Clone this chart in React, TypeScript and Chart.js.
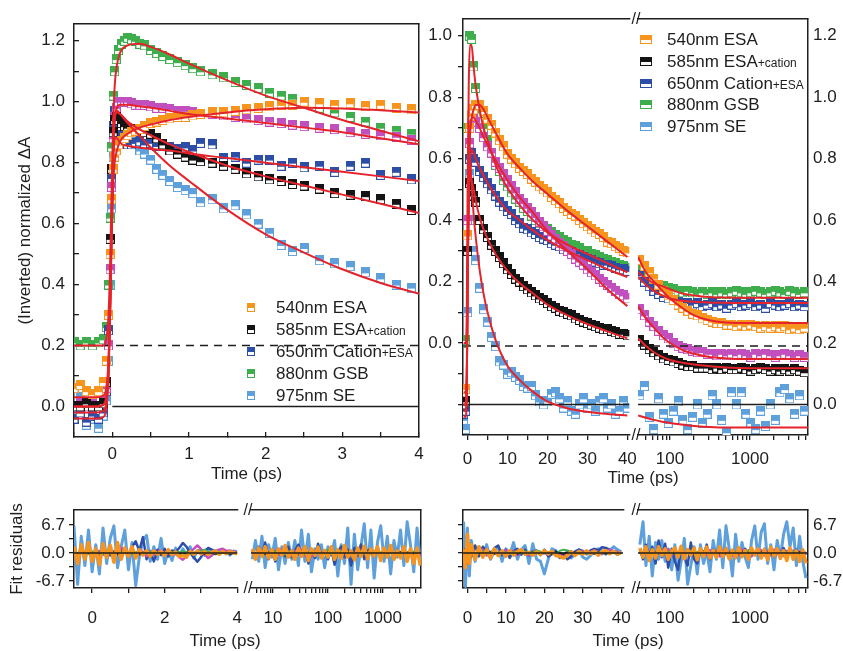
import React, { useEffect, useRef } from 'react';
import { Chart, registerables } from 'chart.js';
Chart.register(...registerables);

const FONT_FAMILY = '"Liberation Sans", Arial, Helvetica, sans-serif';
const INK = '#1e1e1e';
const RED = '#E5232B';
const COLORS: Record<string, string> = {
  orange: '#F7941E', black: '#141414', blue: '#2D4EA6', green: '#3EAD4B', light: '#5EA0DB', magenta: '#C14FBE',
};

// ---------------- axis limits & ticks ----------------
const TL_X_MIN = -0.5, TL_X_MAX = 4;
const TL_Y_MIN = -0.1005, TL_Y_MAX = 1.2545;
const TR_X_MIN = -1.15, TR_X_MAX = 40.5;
const TRL_X_MIN = 39.81, TRL_X_MAX = 5309;
const TR_Y_MIN = -0.0993, TR_Y_MAX = 1.2545;
const RES_MIN = -8.37, RES_MAX = 10.29;
const RL_X_MIN = -0.5, RL_X_MAX = 4;
const RLL_X_MIN = 3.98, RLL_X_MAX = 4920;
const TL_DASH = 0.2, TL_SOLID = 0, TL_SOLID_START = 0;
const TR_DASH = 0.19, TR_SOLID = 0;
const RES_ZERO = 0;

const TL_X_TICKS = [-0.5, 0, 0.5, 1, 1.5, 2, 2.5, 3, 3.5, 4];
const TL_Y_TICKS = [0, 0.1, 0.2, 0.3, 0.4, 0.5, 0.6, 0.7, 0.8, 0.9, 1.0, 1.1, 1.2];
const TR_X_TICKS = [0, 5, 10, 15, 20, 25, 30, 35, 40];
const TR_LOG_TICKS = [50, 60, 70, 80, 90, 100, 200, 300, 400, 500, 600, 700, 800, 900, 1000, 2000, 3000, 4000, 5000];
const TR_Y_TICKS = [0, 0.1, 0.2, 0.3, 0.4, 0.5, 0.6, 0.7, 0.8, 0.9, 1.0, 1.1, 1.2];
const RES_TICKS = [-6.7, -3.35, 0, 3.35, 6.7];
const RL_X_TICKS = [0, 1, 2, 3, 4];
const RL_LOG_TICKS = [5, 6, 7, 8, 9, 10, 20, 30, 40, 50, 60, 70, 80, 90, 100, 200, 300, 400, 500, 600, 700, 800, 900, 1000, 2000, 3000, 4000];
const DECADE_LABELS = [10, 100, 1000];

// ---------------- top-left panel data (time in ps) ----------------
const TL_T = [-0.5, -0.42, -0.34, -0.26, -0.18, -0.12, -0.08, -0.05, -0.03, -0.01, 0.01, 0.03, 0.05, 0.08, 0.12, 0.16, 0.2, 0.25, 0.3, 0.36, 0.42, 0.5, 0.58, 0.66, 0.75, 0.85, 0.95, 1.05, 1.15, 1.3, 1.45, 1.6, 1.75, 1.9, 2.05, 2.2, 2.35, 2.5, 2.7, 2.9, 3.1, 3.3, 3.5, 3.7, 3.9];
const TL_GREEN = [0.21, 0.2, 0.21, 0.2, 0.21, 0.22, 0.26, 0.4, 0.62, 0.85, 1.02, 1.1, 1.14, 1.17, 1.19, 1.2, 1.21, 1.205, 1.2, 1.19, 1.185, 1.17, 1.16, 1.15, 1.14, 1.13, 1.12, 1.11, 1.1, 1.09, 1.08, 1.065, 1.055, 1.045, 1.03, 1.02, 1.01, 1.0, 0.98, 0.965, 0.95, 0.935, 0.915, 0.905, 0.895];
const TL_MAGENTA = [0.0, 0.01, 0.0, 0.01, 0.0, 0.02, 0.06, 0.2, 0.45, 0.72, 0.88, 0.95, 0.98, 1.0, 1.0, 1.0, 1.0, 0.995, 0.99, 0.99, 0.99, 0.985, 0.98, 0.98, 0.975, 0.97, 0.97, 0.965, 0.96, 0.96, 0.955, 0.95, 0.945, 0.94, 0.935, 0.93, 0.925, 0.92, 0.915, 0.91, 0.9, 0.895, 0.89, 0.885, 0.875];
const TL_ORANGE = [0.06, 0.07, 0.05, 0.04, 0.05, 0.08, 0.15, 0.3, 0.5, 0.68, 0.78, 0.82, 0.84, 0.86, 0.87, 0.88, 0.89, 0.9, 0.905, 0.91, 0.92, 0.93, 0.935, 0.94, 0.945, 0.95, 0.95, 0.955, 0.96, 0.965, 0.965, 0.97, 0.975, 0.98, 0.985, 0.99, 0.99, 1.0, 0.995, 0.99, 0.995, 0.985, 0.99, 0.98, 0.975];
const TL_BLUE = [-0.04, -0.02, -0.05, -0.03, -0.04, -0.02, 0.05, 0.25, 0.5, 0.75, 0.92, 0.97, 0.95, 0.92, 0.89, 0.87, 0.86, 0.86, 0.865, 0.87, 0.86, 0.865, 0.855, 0.86, 0.85, 0.845, 0.85, 0.84, 0.865, 0.86, 0.815, 0.82, 0.8, 0.81, 0.81, 0.79, 0.8, 0.785, 0.79, 0.77, 0.79, 0.8, 0.76, 0.77, 0.745];
const TL_BLACK = [0.0, 0.0, 0.01, 0.0, 0.0, 0.01, 0.08, 0.3, 0.55, 0.78, 0.9, 0.94, 0.95, 0.94, 0.93, 0.92, 0.915, 0.91, 0.905, 0.905, 0.9, 0.895, 0.88, 0.86, 0.84, 0.83, 0.82, 0.81, 0.805, 0.8, 0.79, 0.78, 0.765, 0.755, 0.745, 0.74, 0.73, 0.725, 0.715, 0.7, 0.695, 0.69, 0.68, 0.665, 0.645];
const TL_LIGHT = [-0.02, 0.03, -0.06, -0.04, -0.07, -0.03, 0.02, 0.15, 0.4, 0.65, 0.82, 0.9, 0.92, 0.9, 0.88, 0.9, 0.87, 0.88, 0.86, 0.84, 0.83, 0.81, 0.78, 0.76, 0.74, 0.72, 0.71, 0.7, 0.67, 0.68, 0.65, 0.66, 0.63, 0.6, 0.57, 0.53, 0.51, 0.52, 0.48, 0.47, 0.46, 0.44, 0.42, 0.4, 0.39];

const TL_FIT_T = [-0.5, -0.2, -0.12, -0.08, -0.05, -0.03, -0.01, 0.01, 0.03, 0.06, 0.1, 0.2, 0.35, 0.5, 0.75, 1, 1.5, 2, 2.5, 3, 3.5, 4];
const TL_FIT_GREEN = [0.2, 0.2, 0.2, 0.22, 0.3, 0.45, 0.7, 0.92, 1.05, 1.12, 1.16, 1.185, 1.19, 1.18, 1.155, 1.125, 1.07, 1.02, 0.98, 0.94, 0.905, 0.87];
const TL_FIT_MAGENTA = [0, 0, 0.005, 0.03, 0.12, 0.3, 0.58, 0.82, 0.94, 0.98, 0.99, 0.99, 0.985, 0.98, 0.97, 0.96, 0.945, 0.93, 0.915, 0.9, 0.88, 0.86];
const TL_FIT_ORANGE = [0.03, 0.03, 0.035, 0.06, 0.15, 0.32, 0.55, 0.72, 0.8, 0.84, 0.87, 0.895, 0.915, 0.925, 0.94, 0.95, 0.965, 0.975, 0.98, 0.978, 0.972, 0.965];
const TL_FIT_BLUE = [-0.02, -0.02, -0.015, 0.01, 0.1, 0.28, 0.55, 0.78, 0.88, 0.88, 0.865, 0.855, 0.85, 0.845, 0.84, 0.83, 0.815, 0.8, 0.785, 0.77, 0.755, 0.74];
const TL_FIT_BLACK = [0, 0, 0.005, 0.03, 0.13, 0.32, 0.6, 0.85, 0.94, 0.965, 0.96, 0.935, 0.91, 0.89, 0.86, 0.835, 0.79, 0.755, 0.725, 0.695, 0.665, 0.635];
const TL_FIT_LIGHT = [-0.04, -0.04, -0.035, -0.01, 0.1, 0.3, 0.6, 0.85, 0.95, 0.97, 0.96, 0.93, 0.89, 0.85, 0.79, 0.74, 0.645, 0.565, 0.505, 0.45, 0.405, 0.37];

// ---------------- top-right panel, linear part ----------------
const TR_T = [-1, -0.5, 0, 0.5, 1, 1.5, 2, 3, 4, 5, 6, 7, 8, 9, 10, 11, 12, 13, 14, 15, 16, 17, 18, 19, 20, 21, 22, 23, 24, 25, 26, 27, 28, 29, 30, 31, 32, 33, 34, 35, 36, 37, 38, 39, 40];
const TR_ORANGE = [0.04, 0.05, 0.55, 0.9, 0.94, 0.96, 0.975, 0.975, 0.955, 0.93, 0.91, 0.885, 0.86, 0.84, 0.815, 0.8, 0.785, 0.77, 0.76, 0.75, 0.735, 0.725, 0.71, 0.7, 0.69, 0.675, 0.665, 0.655, 0.64, 0.63, 0.62, 0.615, 0.6, 0.59, 0.58, 0.57, 0.56, 0.555, 0.545, 0.53, 0.525, 0.515, 0.51, 0.5, 0.495];
const TR_GREEN = [0.2, 0.21, 0.9, 1.2, 1.19, 1.1, 1.03, 0.95, 0.9, 0.86, 0.82, 0.78, 0.76, 0.73, 0.71, 0.69, 0.67, 0.66, 0.64, 0.63, 0.615, 0.6, 0.59, 0.58, 0.57, 0.56, 0.55, 0.545, 0.535, 0.53, 0.52, 0.515, 0.51, 0.5, 0.5, 0.49, 0.485, 0.48, 0.475, 0.47, 0.465, 0.46, 0.455, 0.45, 0.445];
const TR_MAGENTA = [0, 0.01, 0.6, 0.85, 0.92, 0.93, 0.92, 0.9, 0.87, 0.84, 0.82, 0.79, 0.77, 0.75, 0.73, 0.71, 0.69, 0.67, 0.655, 0.64, 0.625, 0.61, 0.595, 0.58, 0.565, 0.55, 0.54, 0.525, 0.515, 0.5, 0.49, 0.475, 0.465, 0.455, 0.44, 0.43, 0.42, 0.41, 0.4, 0.39, 0.38, 0.37, 0.36, 0.355, 0.345];
const TR_BLUE = [-0.03, -0.02, 0.5, 0.8, 0.82, 0.8, 0.79, 0.76, 0.74, 0.72, 0.7, 0.68, 0.66, 0.645, 0.63, 0.62, 0.6, 0.59, 0.575, 0.57, 0.56, 0.555, 0.545, 0.54, 0.535, 0.525, 0.52, 0.515, 0.505, 0.5, 0.495, 0.49, 0.485, 0.48, 0.475, 0.47, 0.465, 0.46, 0.455, 0.455, 0.45, 0.445, 0.44, 0.44, 0.435];
const TR_BLACK = [0, 0.01, 0.5, 0.72, 0.7, 0.68, 0.66, 0.6, 0.57, 0.545, 0.52, 0.5, 0.48, 0.46, 0.44, 0.425, 0.41, 0.4, 0.385, 0.375, 0.365, 0.355, 0.345, 0.34, 0.33, 0.32, 0.315, 0.305, 0.3, 0.295, 0.29, 0.28, 0.275, 0.27, 0.265, 0.26, 0.255, 0.25, 0.245, 0.245, 0.24, 0.235, 0.23, 0.23, 0.225];
const TR_LIGHT = [-0.05, -0.08, 0.3, 0.75, 0.6, 0.5, 0.47, 0.38, 0.31, 0.27, 0.22, 0.19, 0.14, 0.13, 0.1, 0.105, 0.09, 0.08, 0.06, 0.055, 0.06, 0.03, 0.01, 0.0, 0.01, 0.035, 0.04, 0.02, -0.01, 0.01, -0.02, -0.03, 0.0, 0.02, -0.01, 0.0, -0.02, 0.01, 0.02, -0.01, 0.0, -0.03, -0.02, 0.01, -0.01];

const TR_FIT_T = [-1, -0.5, -0.2, 0, 0.3, 0.6, 1, 1.5, 2, 3, 4, 5, 7, 10, 13, 16, 20, 25, 30, 35, 40];
const TR_FIT_ORANGE = [0.04, 0.04, 0.1, 0.45, 0.75, 0.88, 0.93, 0.96, 0.975, 0.975, 0.96, 0.935, 0.885, 0.815, 0.77, 0.73, 0.685, 0.63, 0.58, 0.53, 0.48];
const TR_FIT_GREEN = [0.2, 0.2, 0.3, 0.7, 1.05, 1.17, 1.17, 1.1, 1.04, 0.96, 0.9, 0.86, 0.78, 0.705, 0.65, 0.605, 0.56, 0.52, 0.49, 0.46, 0.43];
const TR_FIT_MAGENTA = [0, 0, 0.08, 0.4, 0.75, 0.88, 0.93, 0.935, 0.925, 0.9, 0.87, 0.845, 0.795, 0.73, 0.675, 0.63, 0.565, 0.5, 0.44, 0.375, 0.32];
const TR_FIT_BLUE = [-0.02, -0.02, 0.06, 0.4, 0.7, 0.8, 0.83, 0.82, 0.8, 0.77, 0.745, 0.72, 0.68, 0.63, 0.6, 0.57, 0.535, 0.5, 0.47, 0.44, 0.415];
const TR_FIT_BLACK = [0, 0, 0.06, 0.4, 0.68, 0.75, 0.73, 0.7, 0.665, 0.61, 0.57, 0.54, 0.49, 0.435, 0.395, 0.365, 0.325, 0.29, 0.262, 0.238, 0.215];
const TR_FIT_LIGHT = [-0.04, -0.04, 0.05, 0.4, 0.75, 0.8, 0.72, 0.62, 0.55, 0.44, 0.36, 0.3, 0.21, 0.125, 0.08, 0.045, 0.01, -0.012, -0.024, -0.031, -0.036];

// ---------------- top-right panel, log part ----------------
const TRL_T = [42, 48, 55, 63, 72, 83, 95, 110, 126, 145, 167, 192, 220, 253, 291, 335, 385, 443, 510, 586, 674, 775, 891, 1025, 1179, 1356, 1559, 1793, 2062, 2371, 2727, 3136, 3607, 4148, 4770];
const TRL_GREEN = [0.44, 0.42, 0.41, 0.4, 0.39, 0.385, 0.38, 0.375, 0.37, 0.365, 0.37, 0.365, 0.36, 0.365, 0.36, 0.365, 0.36, 0.365, 0.36, 0.365, 0.37, 0.365, 0.36, 0.365, 0.37, 0.365, 0.36, 0.365, 0.37, 0.365, 0.36, 0.37, 0.365, 0.36, 0.365];
const TRL_BLUE = [0.42, 0.4, 0.385, 0.37, 0.36, 0.35, 0.345, 0.34, 0.335, 0.33, 0.33, 0.325, 0.33, 0.32, 0.325, 0.33, 0.32, 0.325, 0.315, 0.325, 0.33, 0.32, 0.325, 0.33, 0.32, 0.325, 0.315, 0.33, 0.325, 0.32, 0.325, 0.33, 0.32, 0.325, 0.32];
const TRL_ORANGE = [0.47, 0.45, 0.43, 0.41, 0.39, 0.37, 0.355, 0.34, 0.325, 0.315, 0.305, 0.295, 0.29, 0.28, 0.275, 0.27, 0.265, 0.265, 0.26, 0.26, 0.255, 0.26, 0.255, 0.26, 0.255, 0.25, 0.255, 0.25, 0.255, 0.25, 0.255, 0.245, 0.25, 0.245, 0.25];
const TRL_MAGENTA = [0.31, 0.29, 0.27, 0.255, 0.24, 0.225, 0.215, 0.2, 0.19, 0.185, 0.18, 0.175, 0.17, 0.17, 0.165, 0.165, 0.16, 0.165, 0.16, 0.165, 0.16, 0.165, 0.16, 0.155, 0.165, 0.16, 0.165, 0.16, 0.155, 0.16, 0.165, 0.16, 0.155, 0.16, 0.155];
const TRL_BLACK = [0.21, 0.195, 0.18, 0.17, 0.16, 0.15, 0.145, 0.14, 0.135, 0.13, 0.125, 0.125, 0.12, 0.12, 0.12, 0.115, 0.12, 0.115, 0.12, 0.115, 0.115, 0.12, 0.115, 0.11, 0.115, 0.12, 0.115, 0.11, 0.115, 0.11, 0.115, 0.11, 0.115, 0.11, 0.105];
const TRL_LIGHT = [0.03, 0.06, -0.04, -0.08, 0.02, -0.03, -0.06, -0.02, 0.01, -0.05, -0.08, -0.04, 0.0, -0.06, -0.03, 0.03, 0.0, -0.05, -0.09, 0.04, 0.0, 0.04, -0.03, -0.06, -0.08, -0.02, -0.07, 0.0, -0.05, 0.04, 0.05, 0.02, -0.03, 0.03, -0.02];

const TRL_FIT_T = [40, 50, 63, 80, 100, 150, 200, 300, 500, 1000, 2000, 5300];
const TRL_FIT_ORANGE = [0.48, 0.43, 0.4, 0.37, 0.345, 0.31, 0.29, 0.275, 0.267, 0.265, 0.265, 0.265];
const TRL_FIT_GREEN = [0.43, 0.41, 0.395, 0.385, 0.375, 0.36, 0.355, 0.35, 0.348, 0.347, 0.347, 0.347];
const TRL_FIT_BLUE = [0.415, 0.39, 0.37, 0.355, 0.345, 0.337, 0.334, 0.332, 0.331, 0.33, 0.33, 0.33];
const TRL_FIT_MAGENTA = [0.32, 0.28, 0.25, 0.22, 0.2, 0.175, 0.165, 0.155, 0.15, 0.148, 0.148, 0.148];
const TRL_FIT_BLACK = [0.215, 0.19, 0.17, 0.155, 0.145, 0.135, 0.13, 0.125, 0.12, 0.118, 0.118, 0.118];
const TRL_FIT_LIGHT = [-0.036, -0.043, -0.05, -0.056, -0.06, -0.066, -0.07, -0.073, -0.075, -0.075, -0.075, -0.075];

// ---------------- residuals, left (linear + log) ----------------
const RL_T = [-0.5, -0.4, -0.3, -0.2, -0.1, 0, 0.1, 0.2, 0.3, 0.4, 0.5, 0.6, 0.7, 0.8, 0.9, 1.0, 1.1, 1.2, 1.3, 1.4, 1.5, 1.6, 1.7, 1.8, 1.9, 2.0, 2.1, 2.2, 2.3, 2.4, 2.5, 2.6, 2.7, 2.8, 2.9, 3.0, 3.1, 3.2, 3.3, 3.4, 3.5, 3.6, 3.7, 3.8, 3.9, 4.0];
const RL_LIGHT = [6.5, -7.5, 4.0, -3.0, 5.5, -4.5, 2.0, -5.0, 6.0, -2.5, 3.5, 6.5, -3.5, 1.5, 5.5, -4.0, 2.5, -7.8, -1.0, 3.0, 4.2, -2.0, 1.5, -1.5, 3.5, -2.5, 0.5, -1.8, 1.2, -0.8, 1.0, -0.5, 1.5, -1.2, 0.5, 0.8, -0.6, 1.0, -0.4, 0.6, -0.3, 0.7, 0.2, -0.5, 0.5, 0.3];
const RL_ORANGE = [1.5, -2.5, 2.0, -1.5, 2.5, -2.0, 1.0, -2.8, 2.2, -1.0, 1.8, -2.2, 2.5, -1.5, 1.2, -0.8, 1.5, -1.2, 0.8, -0.5, 0.6, -0.8, 0.5, -0.3, 0.4, -0.6, 0.8, -0.4, 0.3, -0.9, -0.5, -1.0, 0.4, -0.3, 0.5, -0.2, 0.3, -0.4, 0.2, 0.5, -0.3, 0.4, -0.2, 0.3, 0.1, -0.2];
const RL_BLUE = [0.5, -0.3, 0.8, -0.5, 0.3, -1.0, 0.6, -0.4, 0.2, 0.5, -0.6, 0.4, -0.3, 0.8, 0.3, -0.5, 1.5, 2.8, 0.5, 3.8, -1.5, 0.5, -2.0, 0.8, -0.5, 1.0, -0.8, 0.6, 0.2, 1.2, 2.4, 1.5, 0.0, -1.0, -2.1, -1.0, 0.5, 1.2, 0.8, 0.3, -0.2, 0.4, 0.2, -0.3, 0.2, 0.0];
const RL_MAGENTA = [0.3, -0.5, 0.6, -0.2, 0.4, -0.6, 0.2, 0.5, -0.4, 0.3, 0.6, -0.3, 0.5, 1.2, 0.8, -0.4, 0.3, -0.6, 0.9, 0.2, -0.8, 0.4, -0.5, 0.3, 0.6, -0.2, 0.1, -0.4, -0.2, -1.0, -1.6, -0.8, 0.2, 1.0, 1.8, 1.0, -0.3, -1.2, -0.6, 0.4, 0.8, 1.0, 0.5, 0.6, 0.3, 0.2];
const RL_GREEN = [0.2, -0.3, 0.1, 0.3, -0.2, 0.4, -0.1, 0.2, -0.3, 0.1, 0.3, -0.2, 0.2, -0.1, 0.3, 0.1, -0.3, 0.2, 0.4, -0.2, 0.1, 0.3, -0.1, 0.2, 0.0, -0.2, 0.3, 0.1, -0.1, 0.2, 0.4, 0.2, -0.2, 0.1, 0.3, 0.5, 0.8, 0.3, 0.1, -0.1, 0.2, 0.3, 0.0, 0.1, -0.1, 0.1];
const RL_BLACK = [0.1, -0.2, 0.2, 0.0, -0.1, 0.3, -0.2, 0.1, 0.2, -0.1, 0.0, 0.2, -0.2, 0.1, 0.3, -0.1, 0.2, 0.0, -0.3, 0.1, 0.2, -0.1, 0.1, 0.3, -0.2, 0.0, 0.1, -0.1, 0.2, 0.0, -0.2, 0.1, 0.2, -0.1, 0.0, 0.1, -0.2, 0.0, 0.1, -0.3, -0.1, 0.1, 0.0, -0.1, 0.1, 0.0];

const RLL_T = [4.2, 4.8, 5.5, 6.3, 7.2, 8.3, 9.5, 11, 12.6, 14.5, 16.6, 19, 22, 25, 29, 33, 38, 44, 50, 58, 66, 76, 87, 100, 115, 132, 151, 174, 200, 229, 263, 302, 347, 398, 457, 525, 603, 692, 794, 912, 1047, 1202, 1380, 1585, 1820, 2089, 2399, 2754, 3162, 3631, 4169, 4786];
const RLL_LIGHT = [-1.5, 3.0, -2.0, 4.0, -3.5, 2.0, -1.0, 3.5, -4.0, 1.5, -2.5, 2.5, -1.5, 3.0, -3.0, 5.5, -2.0, 4.5, -4.5, 1.0, -1.5, 2.0, -3.5, 1.5, -0.5, 3.0, -5.5, 2.0, -2.5, 6.0, -7.5, 4.5, -4.0, 1.5, 7.0, -3.5, 5.5, -6.0, 2.5, 6.5, -2.0, 4.0, -5.0, 3.0, -1.0, 5.5, -3.0, 7.5, 2.0, -4.5, 6.0, -2.5];
const RLL_ORANGE = [1.0, -1.5, 1.2, -0.8, 1.5, -1.2, 0.8, -1.5, 1.0, -0.5, 1.8, -1.0, 0.5, -1.5, 1.2, -0.8, 1.5, -1.8, 1.0, -0.6, 1.4, -1.2, 0.6, -1.0, 1.5, -1.5, 0.8, -1.2, 1.8, -1.0, 0.5, -1.6, 1.2, -0.8, 1.6, -1.4, 1.0, -0.7, 1.5, -1.8, 1.2, -1.0, 1.8, -1.5, 0.6, -1.2, 1.5, -2.0, 1.0, -2.5, 1.2, -3.0];
const RLL_BLUE = [0.5, -1.0, 1.5, -0.5, 2.5, -1.5, 0.8, -2.0, 1.0, 0.3, -0.8, 1.5, -1.0, 0.5, 2.0, -0.5, 1.0, -2.5, 0.6, -1.2, 2.2, -0.8, 0.4, -1.5, 1.0, -2.8, 0.5, 1.5, -1.0, 0.8, -3.0, 1.2, -0.6, 2.0, -1.5, 0.5, 1.0, -0.8, 1.6, -1.2, 0.4, -0.6, 1.2, -1.0, 0.8, -0.5, 1.0, -0.8, 0.6, -0.4, 0.8, -0.6];
const RLL_MAGENTA = [0.3, -0.6, 0.8, -0.4, 0.5, -0.8, 0.2, 0.6, -0.5, 0.9, -0.3, 0.4, -0.7, 0.5, -0.2, 0.8, -0.6, 0.3, -0.9, 0.5, 0.2, -0.4, 0.7, -0.6, 0.4, -0.8, 0.6, -0.3, 0.5, -1.0, 0.3, -0.5, 0.8, -0.4, 0.6, -0.9, 0.4, -0.2, 0.7, -0.5, 0.3, -0.6, 0.9, -0.3, 0.5, -0.7, 0.4, -0.2, 0.6, -0.4, 0.2, -0.5];
const RLL_GREEN = [0.2, -0.3, 0.4, -0.1, 0.3, -0.4, 0.1, 0.5, -0.2, 0.3, -0.3, 0.2, 0.6, -0.2, 0.1, 0.4, -0.3, 0.2, -0.1, 0.3, 0.5, -0.2, 0.1, 0.8, -0.3, 0.2, -0.4, 0.3, 0.1, -0.2, 0.4, -0.1, 0.2, -0.3, 0.3, 0.1, -0.2, 0.4, -0.1, 0.2, -0.3, 0.3, 0.1, -0.2, 0.4, -0.1, 0.2, -0.3, 0.1, 0.3, -0.2, 0.1];
const RLL_BLACK = [0.1, -0.2, 0.3, 0.0, -0.3, 0.2, -0.1, 0.4, -0.2, 0.1, 0.3, -0.3, 0.2, 0.0, -0.2, 0.3, 0.1, -0.1, 0.2, -0.3, 0.4, 0.0, -0.2, 0.1, 0.3, -0.1, 0.2, -0.3, 0.1, 0.0, 0.2, -0.2, 0.3, -0.1, 0.1, 0.0, -0.2, 0.3, 0.2, -0.1, 0.1, -0.3, 0.2, 0.0, -0.1, 0.3, -0.2, 0.1, 0.0, -0.2, 0.2, -0.1];

// ---------------- residuals, right (linear + log) ----------------
const RR_T = [-1, -0.5, 0, 0.5, 1, 2, 3, 4, 5, 6, 7, 8, 9, 10, 11, 12, 13, 14, 15, 16, 17, 18, 19, 20, 21, 22, 23, 24, 25, 26, 27, 28, 29, 30, 31, 32, 33, 34, 35, 36, 37, 38, 39, 40];
const RR_LIGHT = [7.5, -8.0, 6.0, -5.5, 3.0, -2.0, 1.5, -1.0, 2.0, -1.5, 0.5, 1.5, -2.0, 1.0, -0.5, 2.5, -1.5, 0.8, 1.8, -2.5, 2.2, -1.5, -2.0, -5.0, -1.5, 1.0, 0.5, -0.8, -0.5, 0.3, -1.2, -0.3, 0.8, -1.0, -1.5, -0.6, 0.4, 1.0, 0.5, -0.3, 0.6, 1.5, 0.8, 0.3];
const RR_ORANGE = [1.0, -3.5, 4.5, -2.5, 2.0, -1.5, 1.5, -1.0, 0.8, -1.2, 1.0, -0.6, 0.5, -0.8, 0.6, -0.5, 0.4, 0.8, -0.3, 0.2, -0.5, 0.3, -0.4, 0.6, -0.2, 0.4, -0.6, -0.8, -1.2, -0.5, 0.3, -0.6, 0.4, -0.3, 0.5, -0.2, 0.4, -0.5, 0.3, 0.6, -0.2, 0.4, -0.3, 0.2];
const RR_BLUE = [0.5, 1.0, -2.5, 1.5, -1.0, 1.8, -0.8, 1.5, 0.5, -0.6, 1.2, 1.8, -0.5, 0.8, -1.2, 0.5, 1.0, -0.4, 0.8, -0.6, 0.3, 0.6, -0.5, 0.8, -0.8, -0.3, 0.5, -1.2, -0.5, -1.5, -0.8, 0.4, 0.8, 0.5, -0.3, 0.6, 1.0, 0.6, 1.4, 1.2, 0.8, 0.3, -0.4, 0.2];
const RR_MAGENTA = [0.3, -0.8, 1.0, -0.5, 0.6, -0.3, 0.4, 0.8, -0.6, 0.2, 0.5, -0.4, 0.3, 0.7, -0.2, 0.5, -0.5, 0.3, 0.2, -0.6, 0.4, 0.2, -0.3, 0.1, -0.4, 0.3, -0.2, -0.5, -0.3, 0.2, 0.4, -0.3, 0.2, 0.5, -0.2, 0.3, 0.6, 0.2, -0.3, 0.4, 0.8, 0.5, 0.3, 0.2];
const RR_GREEN = [0.2, -0.3, 0.5, -0.2, 0.3, -0.1, 0.2, 0.4, -0.2, 0.1, 0.3, -0.3, 0.2, 0.1, -0.2, 0.3, 0.1, -0.1, 0.4, -0.2, 0.2, 0.6, 0.3, -0.1, 0.2, 0.0, -0.3, 0.5, 0.8, 0.6, 0.2, -0.1, 0.3, 0.1, -0.2, 0.2, 0.4, 0.1, -0.1, 0.3, 0.2, 0.0, 0.1, -0.1];
const RR_BLACK = [0.1, -0.4, 0.3, 0.0, 0.2, -0.2, 0.4, -0.1, 0.1, 0.3, -0.2, 0.0, 0.2, -0.1, 0.1, 0.3, -0.2, 0.2, 0.0, -0.1, 0.3, 0.1, -0.2, 0.0, 0.1, -0.1, 0.2, 0.0, -0.2, 0.1, 0.3, 0.0, -0.1, 0.2, 0.0, 0.1, -0.2, 0.2, 0.1, -0.1, 0.0, 0.2, -0.1, 0.1];

const RRL_T = [42, 46, 50, 55, 60, 66, 72, 79, 87, 95, 105, 115, 126, 138, 151, 166, 182, 200, 219, 240, 263, 288, 316, 347, 380, 417, 457, 501, 550, 603, 661, 724, 794, 871, 955, 1047, 1148, 1259, 1380, 1514, 1660, 1820, 1995, 2188, 2399, 2630, 2884, 3162, 3467, 3802, 4169, 4571, 5012];
const RRL_LIGHT = [2.0, 7.5, -3.0, 4.0, -5.5, 2.5, -1.5, 3.0, -2.0, 1.0, -4.0, 2.0, -6.5, -2.0, 3.5, -7.5, -3.0, 1.5, -5.0, 2.0, -2.5, 0.5, -4.5, 3.0, -1.5, 5.5, -3.5, 6.5, 1.0, -5.5, 4.5, -2.0, 2.5, -1.0, -3.5, 3.0, 6.5, -1.5, 5.0, 7.0, -2.5, 2.0, -4.0, 3.0, -1.0, 4.5, 7.5, 1.5, 6.0, -3.0, 4.0, -2.0, -6.0];
const RRL_ORANGE = [1.2, -1.0, 1.5, -1.8, 0.8, -1.2, 1.5, -0.6, 1.0, -1.5, 0.5, 1.2, -1.0, 1.6, -1.4, 0.8, -0.5, 1.2, -1.6, 1.0, -0.8, 1.4, -1.2, 0.6, -1.0, 1.5, -0.8, 1.0, -1.4, 0.7, -1.1, 1.3, -0.9, 0.6, -1.5, 1.2, -0.5, 1.0, -1.2, 0.8, -1.6, 1.4, -0.7, 1.0, -1.3, 0.6, -1.8, 1.2, -1.5, 0.5, -2.0, 0.8, -2.5];
const RRL_BLUE = [0.8, -1.5, 2.0, -0.8, 1.5, -2.5, 3.0, -1.0, 2.2, -3.5, 1.0, -2.0, -4.0, 1.5, -1.0, -3.0, 2.5, -1.5, -2.5, 1.0, -0.5, 2.0, -1.5, 0.8, -1.0, 1.5, -0.6, 1.2, -0.8, 0.5, -1.2, 0.8, -0.5, 1.0, -0.8, 0.6, -0.4, 0.8, -0.6, 1.0, -0.5, 0.4, -0.8, 0.6, -0.3, 1.2, -0.6, 0.5, -1.0, 0.8, -0.4, 0.3, -0.5];
const RRL_MAGENTA = [0.4, -0.6, 0.8, -0.3, 0.5, -0.8, 0.3, 0.6, -0.4, 0.9, -0.5, 0.2, -0.7, 0.6, -0.3, 0.8, -0.5, 0.4, -0.9, 0.6, 0.2, -0.5, 0.7, -0.3, 0.5, -0.8, 0.6, -0.2, 0.4, -0.7, 0.3, -0.5, 0.9, -0.4, 0.6, -0.8, 0.3, -0.2, 0.7, -0.6, 0.4, -0.5, 0.8, -0.3, 0.6, -0.7, 0.5, -0.2, 0.6, -0.4, 0.3, -0.6, 0.2];
const RRL_GREEN = [0.2, -0.3, 0.4, -0.1, 0.3, -0.2, 0.1, 0.5, -0.3, 0.2, 0.4, -0.2, 0.1, 0.3, -0.4, 0.2, 0.6, -0.1, 0.3, -0.2, 0.1, 0.4, -0.3, 0.2, 0.0, 0.3, -0.2, 0.5, 0.1, -0.3, 0.2, 0.4, -0.1, 0.3, 0.6, -0.2, 0.1, 0.3, -0.3, 0.2, 0.0, 0.4, -0.2, 0.1, 0.3, -0.1, 0.2, -0.3, 0.4, 0.1, -0.2, 0.3, 0.0];
const RRL_BLACK = [0.1, -0.2, 0.3, 0.0, -0.3, 0.2, -0.1, 0.4, -0.2, 0.1, 0.3, -0.3, 0.2, 0.0, -0.2, 0.3, 0.1, -0.1, 0.2, -0.3, 0.4, 0.0, -0.2, 0.1, 0.3, -0.1, 0.2, -0.3, 0.1, 0.0, 0.2, -0.2, 0.3, -0.1, 0.1, 0.0, -0.2, 0.3, 0.2, -0.1, 0.1, -0.3, 0.2, 0.0, -0.1, 0.3, -0.2, 0.1, 0.0, -0.2, 0.2, -0.1, 0.1];

const LEGEND = [
  { color: 'orange', main: '540nm ESA', sub: '' },
  { color: 'black', main: '585nm ESA', sub: '+cation' },
  { color: 'blue', main: '650nm Cation', sub: '+ESA' },
  { color: 'green', main: '880nm GSB', sub: '' },
  { color: 'light', main: '975nm SE', sub: '' },
];

// ---------------- layout ----------------
type Box = { l: number; t: number; r: number; b: number };
const PANELS: { key: string; area: Box; margin: Box }[] = [
  { key: 'tl', area: { l: 74, t: 19, r: 419, b: 437 }, margin: { l: 74, t: 19, r: 20, b: 48 } },
  { key: 'trLin', area: { l: 463, t: 19, r: 634, b: 435 }, margin: { l: 60, t: 19, r: 12, b: 40 } },
  { key: 'trLog', area: { l: 638, t: 19, r: 808, b: 435 }, margin: { l: 12, t: 19, r: 35, b: 40 } },
  { key: 'rlLin', area: { l: 74, t: 510, r: 245, b: 588 }, margin: { l: 74, t: 20, r: 12, b: 63 } },
  { key: 'rlLog', area: { l: 251, t: 510, r: 421, b: 588 }, margin: { l: 12, t: 20, r: 12, b: 63 } },
  { key: 'rrLin', area: { l: 463, t: 510, r: 634, b: 588 }, margin: { l: 60, t: 20, r: 12, b: 63 } },
  { key: 'rrLog', area: { l: 638, t: 510, r: 808, b: 588 }, margin: { l: 12, t: 20, r: 35, b: 63 } },
];
const canvasBox = (p: { area: Box; margin: Box }) => ({
  x: p.area.l - p.margin.l,
  y: p.area.t - p.margin.t,
  w: p.area.r - p.area.l + p.margin.l + p.margin.r,
  h: p.area.b - p.area.t + p.margin.t + p.margin.b,
});

// ---------------- helpers ----------------
const isMult = (v: number, step: number) => Math.abs(v / step - Math.round(v / step)) < 1e-6;
const tenthLabel = (v: number) => (isMult(v, 0.2) && v > -1e-9 ? Math.abs(v).toFixed(1) : '');
const leftShiftLabel = (v: number) => tenthLabel(Math.round((v - 0.2) * 1000) / 1000);
const intLabel = (v: number) => (isMult(v, 1) ? String(v) : '');
const evenLabel = (v: number) => (isMult(v, 2) ? String(v) : '');
const tenLabel = (v: number) => (isMult(v, 10) ? String(v) : '');
const decadeLabel = (v: number) => (DECADE_LABELS.includes(v) ? String(v) : '');
const resLabel = (v: number) => (Math.abs(v) > 6 || v === 0 ? v.toFixed(1) : '');

const zip = (xs: number[], ys: number[]) =>
  xs.map((x, i) => ({ x, y: ys[i] })).filter((p) => typeof p.y === 'number');

interface AxisOpt {
  type?: string;
  position: 'left' | 'right' | 'top' | 'bottom';
  min?: number;
  max?: number;
  ticks?: number[];
  label?: (v: number) => string;
  tickLen?: number;
  pad?: number;
  size: number;
  title?: string;
  titlePad?: number;
  display?: boolean;
}
function makeAxis(o: AxisOpt) {
  const horizontal = o.position === 'top' || o.position === 'bottom';
  const tl = o.tickLen ?? 0;
  return {
    type: o.type ?? 'linear',
    axis: horizontal ? 'x' : 'y',
    position: o.position,
    display: o.display ?? true,
    min: o.min,
    max: o.max,
    afterBuildTicks: (s: any) => {
      if (o.ticks) s.ticks = o.ticks.map((v) => ({ value: v }));
    },
    afterFit: (s: any) => {
      if (horizontal) s.height = o.size;
      else s.width = o.size;
    },
    ticks: {
      display: !!o.label,
      autoSkip: false,
      maxRotation: 0,
      minRotation: 0,
      padding: o.pad ?? 0,
      font: { family: FONT_FAMILY, size: 17 },
      color: INK,
      callback: (v: any) => (o.label ? o.label(Number(v)) : ''),
    },
    grid: {
      display: true,
      drawOnChartArea: false,
      drawTicks: !!o.ticks && tl !== 0,
      tickLength: tl,
      color: INK,
      lineWidth: 1.3,
    },
    border: { display: true, color: INK, width: 1.5 },
    title: o.title
      ? { display: true, text: o.title, font: { family: FONT_FAMILY, size: 17 }, color: INK, padding: { top: o.titlePad ?? 0, bottom: o.titlePad ?? 0 } }
      : { display: false },
  };
}
const frameAxis = (position: 'top' | 'right', size: number) => makeAxis({ position, size });

function makeMarker(color: string) {
  const c = document.createElement('canvas');
  c.width = 9;
  c.height = 10;
  const g = c.getContext('2d') as CanvasRenderingContext2D;
  g.fillStyle = color;
  g.fillRect(0, 0, 9, 5);
  g.fillStyle = '#ffffff';
  g.fillRect(0, 5, 9, 5);
  g.strokeStyle = color;
  g.lineWidth = 1;
  g.strokeRect(0.5, 5.5, 8, 4);
  return c;
}

const markerSet = (data: any[], marker: HTMLCanvasElement) => ({
  data, showLine: false, pointStyle: marker, pointRadius: 4, pointHoverRadius: 4, xAxisID: 'x', yAxisID: 'y',
});
const fitSet = (data: any[]) => ({
  data, borderColor: RED, borderWidth: 2, pointRadius: 0, cubicInterpolationMode: 'monotone', fill: false, xAxisID: 'x', yAxisID: 'y',
});
const refSet = (x0: number, x1: number, y: number, dashed: boolean) => ({
  data: [{ x: x0, y }, { x: x1, y }], borderColor: INK, borderWidth: 1.5, borderDash: dashed ? [8, 6] : [], pointRadius: 0, xAxisID: 'x', yAxisID: 'y',
});
const resSet = (data: any[], color: string, width: number) => ({
  data, borderColor: color, borderWidth: width, pointRadius: 0, tension: 0, borderJoinStyle: 'round', xAxisID: 'x', yAxisID: 'y',
});

function baseOptions(scales: any, padding: any) {
  return {
    animation: false,
    responsive: false,
    devicePixelRatio: 1,
    events: [],
    layout: { padding },
    plugins: { legend: { display: false }, tooltip: { enabled: false } },
    scales,
  };
}

function buildConfigs(M: Record<string, HTMLCanvasElement>): Record<string, any> {
  const tl = {
    type: 'line',
    data: {
      datasets: [
        fitSet(zip(TL_FIT_T, TL_FIT_ORANGE)), fitSet(zip(TL_FIT_T, TL_FIT_GREEN)), fitSet(zip(TL_FIT_T, TL_FIT_MAGENTA)),
        fitSet(zip(TL_FIT_T, TL_FIT_BLUE)), fitSet(zip(TL_FIT_T, TL_FIT_BLACK)), fitSet(zip(TL_FIT_T, TL_FIT_LIGHT)),
        refSet(TL_X_MIN, TL_X_MAX, TL_DASH, true), refSet(TL_SOLID_START, TL_X_MAX, TL_SOLID, false),
        markerSet(zip(TL_T, TL_ORANGE), M.orange), markerSet(zip(TL_T, TL_BLACK), M.black),
        markerSet(zip(TL_T, TL_MAGENTA), M.magenta), markerSet(zip(TL_T, TL_BLUE), M.blue),
        markerSet(zip(TL_T, TL_GREEN), M.green), markerSet(zip(TL_T, TL_LIGHT), M.light),
      ],
    },
    options: baseOptions({
      x: makeAxis({ position: 'bottom', min: TL_X_MIN, max: TL_X_MAX, ticks: TL_X_TICKS, label: intLabel, tickLen: -5, pad: 12, size: 48, title: 'Time (ps)', titlePad: 0 }),
      y: makeAxis({ position: 'left', min: TL_Y_MIN, max: TL_Y_MAX, ticks: TL_Y_TICKS, label: tenthLabel, tickLen: -5, pad: 14, size: 74, title: '(Inverted) normalized \u0394A', titlePad: 15 }),
      xt: frameAxis('top', 19),
      yr: frameAxis('right', 20),
    }, 0),
  };

  const trLin = {
    type: 'line',
    data: {
      datasets: [
        fitSet(zip(TR_FIT_T, TR_FIT_ORANGE)), fitSet(zip(TR_FIT_T, TR_FIT_GREEN)), fitSet(zip(TR_FIT_T, TR_FIT_MAGENTA)),
        fitSet(zip(TR_FIT_T, TR_FIT_BLUE)), fitSet(zip(TR_FIT_T, TR_FIT_BLACK)), fitSet(zip(TR_FIT_T, TR_FIT_LIGHT)),
        refSet(TR_X_MIN, TR_X_MAX, TR_DASH, true), refSet(TR_X_MIN, TR_X_MAX, TR_SOLID, false),
        markerSet(zip(TR_T, TR_ORANGE), M.orange), markerSet(zip(TR_T, TR_BLACK), M.black),
        markerSet(zip(TR_T, TR_MAGENTA), M.magenta), markerSet(zip(TR_T, TR_BLUE), M.blue),
        markerSet(zip(TR_T, TR_GREEN), M.green), markerSet(zip(TR_T, TR_LIGHT), M.light),
      ],
    },
    options: baseOptions({
      x: makeAxis({ position: 'bottom', min: TR_X_MIN, max: TR_X_MAX, ticks: TR_X_TICKS, label: tenLabel, tickLen: 5, pad: 9, size: 40 }),
      y: makeAxis({ position: 'left', min: TR_Y_MIN, max: TR_Y_MAX, ticks: TR_Y_TICKS, label: leftShiftLabel, tickLen: 5, pad: 6, size: 60 }),
      xt: frameAxis('top', 19),
    }, { right: 12 }),
  };

  const trLog = {
    type: 'line',
    data: {
      datasets: [
        fitSet(zip(TRL_FIT_T, TRL_FIT_ORANGE)), fitSet(zip(TRL_FIT_T, TRL_FIT_GREEN)), fitSet(zip(TRL_FIT_T, TRL_FIT_MAGENTA)),
        fitSet(zip(TRL_FIT_T, TRL_FIT_BLUE)), fitSet(zip(TRL_FIT_T, TRL_FIT_BLACK)), fitSet(zip(TRL_FIT_T, TRL_FIT_LIGHT)),
        refSet(TRL_X_MIN, TRL_X_MAX, TR_DASH, true), refSet(TRL_X_MIN, TRL_X_MAX, TR_SOLID, false),
        markerSet(zip(TRL_T, TRL_ORANGE), M.orange), markerSet(zip(TRL_T, TRL_BLACK), M.black),
        markerSet(zip(TRL_T, TRL_MAGENTA), M.magenta), markerSet(zip(TRL_T, TRL_BLUE), M.blue),
        markerSet(zip(TRL_T, TRL_GREEN), M.green), markerSet(zip(TRL_T, TRL_LIGHT), M.light),
      ],
    },
    options: baseOptions({
      x: makeAxis({ type: 'logarithmic', position: 'bottom', min: TRL_X_MIN, max: TRL_X_MAX, ticks: TR_LOG_TICKS, label: decadeLabel, tickLen: 5, pad: 9, size: 40 }),
      y: makeAxis({ position: 'right', min: TR_Y_MIN, max: TR_Y_MAX, ticks: TR_Y_TICKS, label: tenthLabel, tickLen: 0, pad: 5, size: 35 }),
      xt: frameAxis('top', 19),
    }, { left: 12 }),
  };

  const resDatasets = (xs: number[], lo: number, hi: number, s: Record<string, number[]>) => [
    refSet(lo, hi, RES_ZERO, false),
    resSet(zip(xs, s.orange), COLORS.orange, 3.5),
    resSet(zip(xs, s.green), COLORS.green, 2),
    resSet(zip(xs, s.black), COLORS.black, 2),
    resSet(zip(xs, s.magenta), COLORS.magenta, 2.5),
    resSet(zip(xs, s.blue), COLORS.blue, 2.5),
    resSet(zip(xs, s.light), COLORS.light, 3),
  ];

  const rlLin = {
    type: 'line',
    data: { datasets: resDatasets(RL_T, RL_X_MIN, RL_X_MAX, { orange: RL_ORANGE, green: RL_GREEN, black: RL_BLACK, magenta: RL_MAGENTA, blue: RL_BLUE, light: RL_LIGHT }) },
    options: baseOptions({
      x: makeAxis({ position: 'bottom', min: RL_X_MIN, max: RL_X_MAX, ticks: RL_X_TICKS, label: evenLabel, tickLen: 5, pad: 15, size: 63 }),
      y: makeAxis({ position: 'left', min: RES_MIN, max: RES_MAX, ticks: RES_TICKS, label: resLabel, tickLen: 5, pad: 4, size: 74, title: 'Fit residuals', titlePad: 7 }),
      xt: frameAxis('top', 20),
    }, { right: 12 }),
  };

  const rlLog = {
    type: 'line',
    data: { datasets: resDatasets(RLL_T, RLL_X_MIN, RLL_X_MAX, { orange: RLL_ORANGE, green: RLL_GREEN, black: RLL_BLACK, magenta: RLL_MAGENTA, blue: RLL_BLUE, light: RLL_LIGHT }) },
    options: baseOptions({
      x: makeAxis({ type: 'logarithmic', position: 'bottom', min: RLL_X_MIN, max: RLL_X_MAX, ticks: RL_LOG_TICKS, label: decadeLabel, tickLen: 5, pad: 15, size: 63 }),
      y: makeAxis({ position: 'left', min: RES_MIN, max: RES_MAX, size: 0, display: false }),
      xt: frameAxis('top', 20),
      yr: frameAxis('right', 12),
    }, { left: 12 }),
  };

  const rrLin = {
    type: 'line',
    data: { datasets: resDatasets(RR_T, TR_X_MIN, TR_X_MAX, { orange: RR_ORANGE, green: RR_GREEN, black: RR_BLACK, magenta: RR_MAGENTA, blue: RR_BLUE, light: RR_LIGHT }) },
    options: baseOptions({
      x: makeAxis({ position: 'bottom', min: TR_X_MIN, max: TR_X_MAX, ticks: TR_X_TICKS, label: tenLabel, tickLen: 5, pad: 15, size: 63 }),
      y: makeAxis({ position: 'left', min: RES_MIN, max: RES_MAX, ticks: RES_TICKS, tickLen: 5, size: 60 }),
      xt: frameAxis('top', 20),
    }, { right: 12 }),
  };

  const rrLog = {
    type: 'line',
    data: { datasets: resDatasets(RRL_T, TRL_X_MIN, TRL_X_MAX, { orange: RRL_ORANGE, green: RRL_GREEN, black: RRL_BLACK, magenta: RRL_MAGENTA, blue: RRL_BLUE, light: RRL_LIGHT }) },
    options: baseOptions({
      x: makeAxis({ type: 'logarithmic', position: 'bottom', min: TRL_X_MIN, max: TRL_X_MAX, ticks: TR_LOG_TICKS, label: decadeLabel, tickLen: 5, pad: 15, size: 63 }),
      y: makeAxis({ position: 'right', min: RES_MIN, max: RES_MAX, ticks: RES_TICKS, label: resLabel, tickLen: 0, pad: 5, size: 35 }),
      xt: frameAxis('top', 20),
    }, { left: 12 }),
  };

  return { tl, trLin, trLog, rlLin, rlLog, rrLin, rrLog };
}

// ---------------- overlays ----------------
const textStyle: React.CSSProperties = {
  position: 'absolute', fontFamily: FONT_FAMILY, fontSize: 17, color: INK, whiteSpace: 'nowrap', lineHeight: '20px',
};

function Legend({ markerLeft, markerW, textLeft, rowTop, rowStep }: { markerLeft: number; markerW: number; textLeft: number; rowTop: number; rowStep: number }) {
  return (
    <>
      {LEGEND.map((e, i) => {
        const cy = rowTop + i * rowStep;
        const col = COLORS[e.color];
        return (
          <React.Fragment key={e.main}>
            <div style={{ position: 'absolute', left: markerLeft, top: cy - 5, width: markerW }}>
              <div style={{ height: 4, background: col }} />
              <div style={{ height: 5, border: `1px solid ${col}`, background: '#fff', boxSizing: 'border-box' }} />
            </div>
            <div style={{ ...textStyle, left: textLeft, top: cy - 10 }}>
              {e.main}
              {e.sub ? <span style={{ fontSize: 12 }}>{e.sub}</span> : null}
            </div>
          </React.Fragment>
        );
      })}
    </>
  );
}

const centered = (x: number, y: number, text: string, size = 17) => (
  <div style={{ ...textStyle, fontSize: size, left: x, top: y, transform: 'translate(-50%, -50%)' }}>{text}</div>
);

export default function App() {
  const refs = useRef<(HTMLCanvasElement | null)[]>([]);
  useEffect(() => {
    Chart.defaults.font.family = FONT_FAMILY;
    const markers: Record<string, HTMLCanvasElement> = {};
    Object.keys(COLORS).forEach((k) => (markers[k] = makeMarker(COLORS[k])));
    const configs = buildConfigs(markers);
    const charts = PANELS.map((p, i) => new Chart(refs.current[i] as HTMLCanvasElement, configs[p.key]));
    return () => charts.forEach((c) => c.destroy());
  }, []);

  return (
    <div style={{ position: 'fixed', left: 0, top: 0, width: 843, height: 651, overflow: 'hidden', background: '#fff' }}>
      {PANELS.map((p, i) => {
        const g = canvasBox(p);
        return (
          <canvas
            key={p.key}
            ref={(el) => { refs.current[i] = el; }}
            width={g.w}
            height={g.h}
            style={{ position: 'absolute', left: g.x, top: g.y, width: g.w, height: g.h }}
          />
        );
      })}
      <Legend markerLeft={247} markerW={8} textLeft={276} rowTop={308} rowStep={22} />
      <Legend markerLeft={640} markerW={12} textLeft={667} rowTop={40} rowStep={21.8} />
      {centered(643, 478, 'Time (ps)')}
      {centered(225, 641, 'Time (ps)')}
      {centered(628, 641, 'Time (ps)')}
      {centered(636, 19, '//', 16)}
      {centered(636, 435, '//', 16)}
      {centered(248, 510, '//', 16)}
      {centered(248, 588, '//', 16)}
      {centered(636, 510, '//', 16)}
      {centered(636, 588, '//', 16)}
    </div>
  );
}
